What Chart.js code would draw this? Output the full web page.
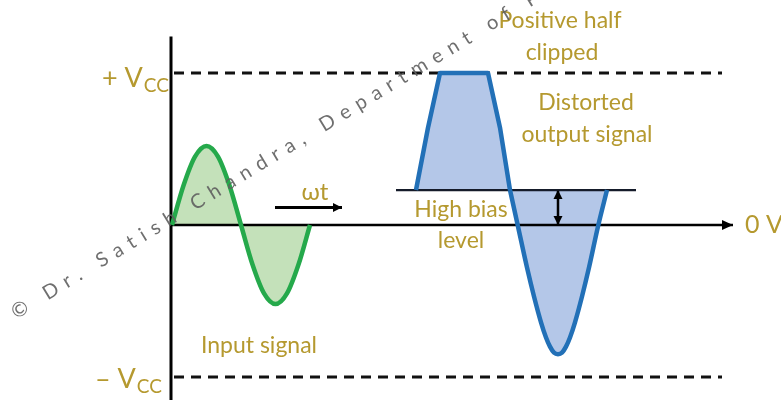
<!DOCTYPE html>
<html>
<head>
<meta charset="utf-8">
<script src="https://cdn.jsdelivr.net/npm/chart.js@4.4.1/dist/chart.umd.min.js"></script>
<style>
  html, body { margin: 0; padding: 0; background: #ffffff; }
  #wrap { width: 781px; height: 400px; }
</style>
</head>
<body>
<div id="wrap"><canvas id="chart" width="781" height="400"></canvas></div>
<script>
// Time axis in arbitrary units (t), voltage axis in units of Vcc.
const vccLevel = 1.0;
const biasLevel = 0.23;

// Input signal: one full cycle around 0 V
const inputTime  = [0.1, 1.25, 2.4, 3.55, 4.7, 5.85, 7.0, 8.15, 9.3, 10.45, 11.6, 12.75, 13.9];
const inputVolts = [0, 0.26, 0.45, 0.52, 0.45, 0.26, 0, -0.26, -0.45, -0.52, -0.45, -0.26, 0];

// Output signal, positive half: rises from the bias level and is flattened at +Vcc
const clippedTime  = [24.5, 25.7, 26.9, 31.7, 32.9, 33.9];
const clippedVolts = [0.23, 0.64, 1.0, 1.0, 0.64, 0.23];

// Output signal, negative half: swings well below 0 V and back to the bias level
const troughTime  = [33.9, 34.7, 35.6, 36.3, 37.0, 37.5, 37.9, 38.3, 38.7,
                     39.1, 39.5, 39.9, 40.4, 41.1, 41.8, 42.7, 43.6];
const troughVolts = [0.23, -0.01, -0.28, -0.47, -0.64, -0.74, -0.80, -0.84, -0.85,
                     -0.84, -0.80, -0.74, -0.64, -0.47, -0.28, -0.01, 0.23];

// Extents of the reference lines and arrows (t, V)
const axisTimeEnd   = 56.2;
const vAxisRange    = [-1.16, 1.24];
const supplyLineEnd = [0.3, 55.1];
const biasLineSpan  = [22.5, 46.5];
const timeArrow     = { from: 10.4, to: 17.1, level: 0.115 };
const biasArrowTime = 38.7;

// Text labels: [text, t, V, size, align]
const labels = [
  ['Positive half', 38.9, 1.296, 23, 'center'],
  ['clipped', 39.1, 1.086, 23, 'center'],
  ['Distorted', 41.5, 0.757, 23, 'center'],
  ['output signal', 41.6, 0.546, 23, 'center'],
  ['High bias', 29.0, 0.053, 23, 'center'],
  ['level', 29.0, -0.151, 23, 'center'],
  ['Input signal', 8.8, -0.842, 23, 'center'],
  ['ωt', 14.4, 0.164, 24, 'center'],
  ['0 V', 57.4, -0.053, 25, 'left']
];
// Supply rail labels: [prefix, subscript, t, V]
const railLabels = [
  ['+ V', 'CC', -6.9, 0.908],
  ['– V', 'CC', -7.6, -1.072]
];
const watermark = '© Dr. Satish Chandra, Department of Physics';

const TEXT_COLOR = '#b5992f';
const FONT = 'Lato, "Open Sans", "DejaVu Sans", sans-serif';
const OUT_LINE = '#2270b7';
const OUT_FILL = 'rgba(176, 196, 231, 0.95)';

const toPoints = (ts, vs) => ts.map((t, i) => ({ x: t, y: vs[i] }));

const datasets = [
  { // input signal
    data: toPoints(inputTime, inputVolts),
    borderColor: '#25a94b', borderWidth: 4.5,
    backgroundColor: 'rgba(190, 222, 178, 0.9)',
    fill: { value: 0 }, cubicInterpolationMode: 'monotone', order: 2
  },
  { // output signal, clipped half
    data: toPoints(clippedTime, clippedVolts),
    borderColor: OUT_LINE, borderWidth: 4.5, borderJoinStyle: 'round',
    backgroundColor: OUT_FILL,
    fill: { value: biasLevel }, tension: 0, order: 1
  },
  { // output signal, negative half
    data: toPoints(troughTime, troughVolts),
    borderColor: OUT_LINE, borderWidth: 4.5, borderJoinStyle: 'round',
    backgroundColor: OUT_FILL,
    fill: { value: biasLevel }, cubicInterpolationMode: 'monotone', order: 1
  },
  { // +Vcc rail
    data: [{ x: supplyLineEnd[0], y: vccLevel }, { x: supplyLineEnd[1], y: vccLevel }],
    borderColor: '#111', borderWidth: 3, borderDash: [10, 7], fill: false, order: 5
  },
  { // -Vcc rail
    data: [{ x: supplyLineEnd[0], y: -vccLevel }, { x: supplyLineEnd[1], y: -vccLevel }],
    borderColor: '#111', borderWidth: 3, borderDash: [10, 7], fill: false, order: 5
  },
  { // 0 V time axis
    data: [{ x: 0, y: 0 }, { x: axisTimeEnd, y: 0 }],
    borderColor: '#000', borderWidth: 2.5, fill: false, order: 4,
    arrow: 'end', headLen: 11, headHalf: 5
  },
  { // voltage axis
    data: [{ x: 0, y: vAxisRange[0] }, { x: 0, y: vAxisRange[1] }],
    borderColor: '#000', borderWidth: 3, fill: false, order: 4
  },
  { // bias level line
    data: [{ x: biasLineSpan[0], y: biasLevel }, { x: biasLineSpan[1], y: biasLevel }],
    borderColor: '#151b2a', borderWidth: 2.2, fill: false, order: 3
  },
  { // bias offset arrow
    data: [{ x: biasArrowTime, y: biasLevel }, { x: biasArrowTime, y: 0 }],
    borderColor: '#000', borderWidth: 2.5, fill: false, order: 3,
    arrow: 'both', headLen: 9, headHalf: 4.5
  },
  { // direction of time arrow
    data: [{ x: timeArrow.from, y: timeArrow.level }, { x: timeArrow.to, y: timeArrow.level }],
    borderColor: '#000', borderWidth: 2.8, fill: false, order: 3,
    arrow: 'end', headLen: 9, headHalf: 4.5
  }
];

function drawHead(ctx, from, tip, len, half, color) {
  const ang = Math.atan2(tip.y - from.y, tip.x - from.x);
  ctx.save();
  ctx.translate(tip.x, tip.y);
  ctx.rotate(ang);
  ctx.fillStyle = color;
  ctx.beginPath();
  ctx.moveTo(0, 0);
  ctx.lineTo(-len, -half);
  ctx.lineTo(-len, half);
  ctx.closePath();
  ctx.fill();
  ctx.restore();
}

const arrowHeads = {
  id: 'arrowHeads',
  afterDatasetsDraw(chart) {
    const ctx = chart.ctx;
    chart.data.datasets.forEach((ds, i) => {
      if (!ds.arrow) return;
      const pts = chart.getDatasetMeta(i).data;
      const a = pts[0], b = pts[pts.length - 1];
      drawHead(ctx, a, b, ds.headLen, ds.headHalf, ds.borderColor);
      if (ds.arrow === 'both') drawHead(ctx, b, a, ds.headLen, ds.headHalf, ds.borderColor);
    });
  }
};

const textLabels = {
  id: 'textLabels',
  afterDraw(chart) {
    const ctx = chart.ctx;
    const xs = chart.scales.x, ys = chart.scales.y;
    ctx.save();
    ctx.fillStyle = TEXT_COLOR;
    ctx.textBaseline = 'alphabetic';
    labels.forEach(([txt, t, v, size, align]) => {
      ctx.font = `${size}px ${FONT}`;
      ctx.textAlign = align;
      ctx.fillText(txt, xs.getPixelForValue(t), ys.getPixelForValue(v));
    });
    railLabels.forEach(([main, sub, t, v]) => {
      const x = xs.getPixelForValue(t), y = ys.getPixelForValue(v);
      ctx.textAlign = 'left';
      ctx.font = `27px ${FONT}`;
      ctx.fillText(main, x, y);
      const w = ctx.measureText(main).width;
      ctx.font = `19px ${FONT}`;
      ctx.fillText(sub, x + w + 1, y + 5);
    });
    ctx.restore();

    // diagonal copyright line, widely letter-spaced
    ctx.save();
    ctx.translate(13, 314);
    ctx.rotate(-31.3 * Math.PI / 180);
    ctx.font = `20px ${FONT}`;
    ctx.fillStyle = 'rgba(95, 95, 95, 0.9)';
    ctx.textAlign = 'left';
    ctx.textBaseline = 'middle';
    const tracking = 7.5;
    let pos = 0;
    for (const ch of watermark) {
      ctx.fillText(ch, pos, 0);
      pos += ctx.measureText(ch).width + tracking;
    }
    ctx.restore();
  }
};

new Chart(document.getElementById('chart'), {
  type: 'line',
  data: { datasets },
  options: {
    responsive: false,
    animation: false,
    devicePixelRatio: 1,
    layout: { padding: 0 },
    elements: { point: { radius: 0, hoverRadius: 0 } },
    plugins: {
      legend: { display: false },
      tooltip: { enabled: false },
      filler: { drawTime: 'beforeDatasetsDraw' }
    },
    scales: {
      x: { type: 'linear', display: false, min: -17.1, max: 61.0 },
      y: { type: 'linear', display: false, min: -175 / 152, max: 225 / 152 }
    }
  },
  plugins: [arrowHeads, textLabels]
});
</script>
</body>
</html>
